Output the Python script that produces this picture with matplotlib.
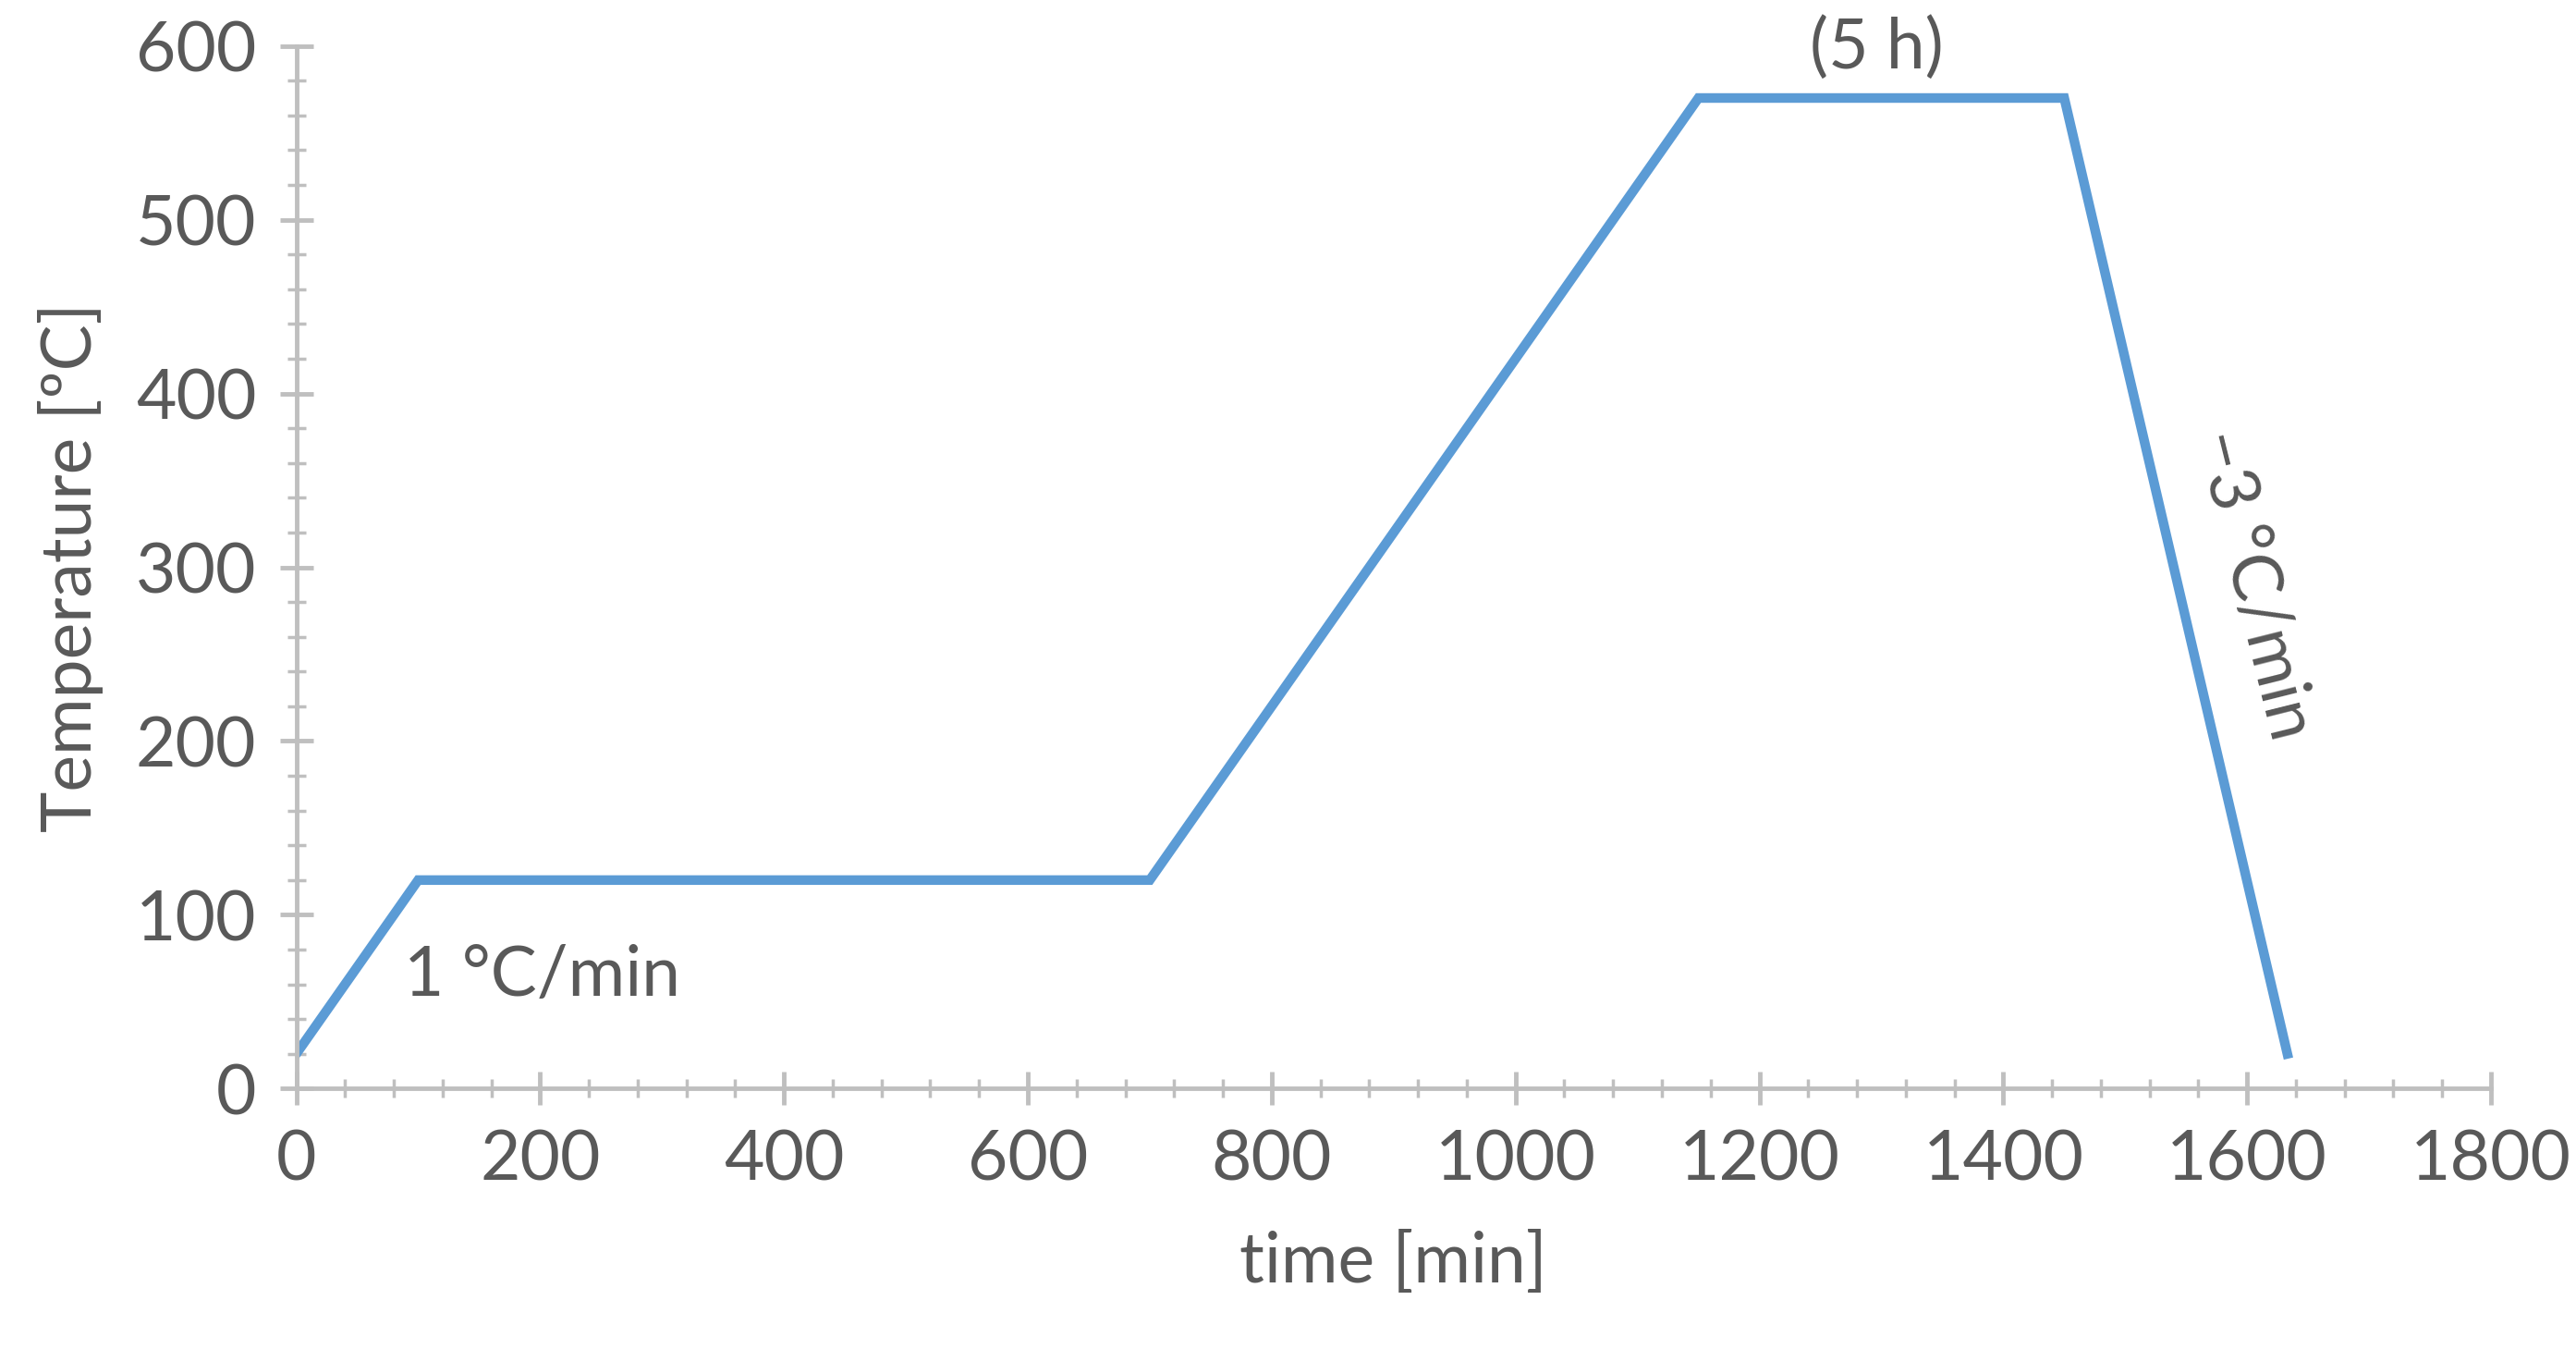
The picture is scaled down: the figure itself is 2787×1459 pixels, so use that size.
import matplotlib.pyplot as plt
from matplotlib.ticker import MultipleLocator

time_min = [0, 100, 700, 1150, 1450, 1633]
temp_c = [20, 120, 120, 570, 570, 20]

grey = '#595959'
axis_grey = '#bfbfbf'
plt.rcParams['font.family'] = ['Lato', 'DejaVu Sans']

fig = plt.figure(figsize=(27.87, 14.59), dpi=100)
ax = fig.add_axes([0.115, 0.193, 0.852, 0.773])
ax.plot(time_min, temp_c, color='#5B9BD5', lw=7.5, solid_joinstyle='miter')

ax.set_xlim(0, 1800)
ax.set_ylim(0, 600)
ax.xaxis.set_major_locator(MultipleLocator(200))
ax.xaxis.set_minor_locator(MultipleLocator(40))
ax.yaxis.set_major_locator(MultipleLocator(100))
ax.yaxis.set_minor_locator(MultipleLocator(20))
for s in ['top', 'right']:
    ax.spines[s].set_visible(False)
for s in ['left', 'bottom']:
    ax.spines[s].set_color(axis_grey)
    ax.spines[s].set_linewidth(3.5)
ax.tick_params(which='major', direction='inout', length=26, width=3.5, color=axis_grey,
               labelsize=54, labelcolor=grey, pad=18)
ax.tick_params(which='minor', direction='inout', length=14, width=2.5, color=axis_grey)

ax.set_xlabel('time [min]', fontsize=54, color=grey, labelpad=30)
ax.set_ylabel('Temperature [ºC]', fontsize=54, color=grey, labelpad=25)

ax.text(88, 65, '1 °C/min', fontsize=54, color=grey, va='center')
ax.text(1296, 580, '(5 h)', fontsize=54, color=grey, ha='center', va='bottom', clip_on=False)
ax.text(1605, 290, '−3 °C/min', fontsize=54, color=grey, ha='center', va='center', rotation=-76)

fig.savefig('out.png', dpi=100)
